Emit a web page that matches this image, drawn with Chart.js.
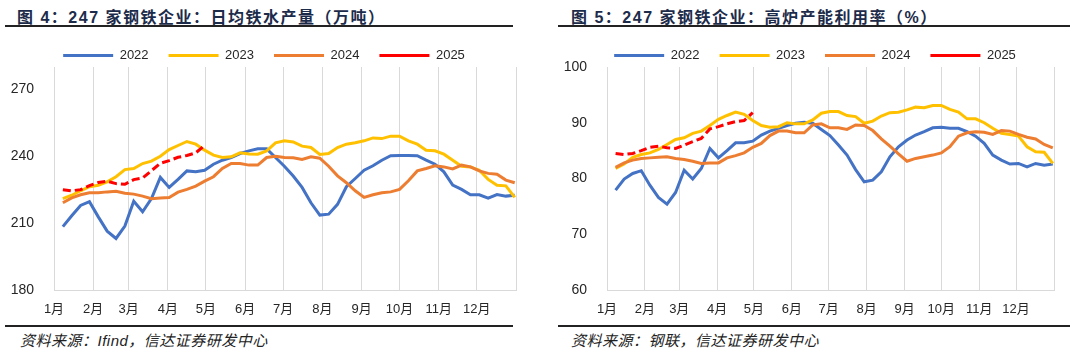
<!DOCTYPE html>
<html>
<head>
<meta charset="utf-8">
<script src="https://cdn.jsdelivr.net/npm/chart.js@4.4.1/dist/chart.umd.min.js"></script>
<style>
  body { margin: 0; width: 1088px; height: 351px; background: #fff; position: relative; overflow: hidden; }
  .title { position: absolute; top: 4px; line-height: 20px; font: bold 16px "Liberation Sans", "Noto Sans CJK SC", sans-serif; color: #1c2b4a; letter-spacing: 1.5px; white-space: nowrap; }
  .rule { position: absolute; height: 2px; background: #222; }
  .src { position: absolute; top: 329px; line-height: 18px; font: italic 15px "Liberation Sans", "Noto Sans CJK SC", sans-serif; color: #222; letter-spacing: 0.5px; white-space: nowrap; }
  .box { position: absolute; top: 29px; height: 291px; }
</style>
</head>
<body>
<div class="title" style="left:17px">图 4：247 家钢铁企业：日均铁水产量（万吨）</div>
<div class="rule" style="left:5px;width:508px;top:25px"></div>
<div class="box" style="left:0;width:528px"><canvas id="ironChart"></canvas></div>
<div class="rule" style="left:5px;width:508px;top:325px"></div>
<div class="src" style="left:20px">资料来源：Ifind，信达证券研发中心</div>

<div class="title" style="left:571px">图 5：247 家钢铁企业：高炉产能利用率（%）</div>
<div class="rule" style="left:558px;width:512px;top:25px"></div>
<div class="box" style="left:544px;width:522px"><canvas id="utilChart"></canvas></div>
<div class="rule" style="left:558px;width:512px;top:325px"></div>
<div class="src" style="left:571px">资料来源：钢联，信达证券研发中心</div>

<script>
// week positions (day of year) and month boundaries
const weekDays = [7, 14, 21, 28, 35, 42, 49, 56, 63, 70, 77, 84, 91, 98, 105, 112, 119, 126, 133, 140,
  147, 154, 161, 168, 175, 182, 189, 196, 203, 210, 217, 224, 231, 238, 245, 252, 259, 266, 273, 280,
  287, 294, 301, 308, 315, 322, 329, 336, 343, 350, 357, 364];
const monthStarts = [0, 31, 59, 90, 120, 151, 181, 212, 243, 273, 304, 334, 365];
const monthLabels = ['1月', '2月', '3月', '4月', '5月', '6月', '7月', '8月', '9月', '10月', '11月', '12月', ''];
const years = ['2022', '2023', '2024', '2025'];

// 日均铁水产量（万吨）
const iron2022 = [208.4, 213.3, 217.9, 219.6, 212.8, 206.4, 203.1, 208.7, 219.8, 215.1, 221.0, 230.5, 226.0, 229.6,
  233.4, 233.0, 233.7, 236.4, 238.2, 239.4, 241.2, 242.4, 243.3, 243.3, 239.4, 235.5, 231.1, 226.0, 219.1, 213.6,
  214.0, 218.4, 226.3, 230.0, 233.7, 235.7, 238.2, 240.2, 240.3, 240.3, 240.2, 238.2, 236.4, 233.0, 227.0, 225.1,
  222.7, 222.7, 221.2, 222.8, 222.1, 222.5];
const iron2023 = [221.0, 222.5, 224.5, 226.3, 227.0, 228.5, 230.8, 234.0, 234.5, 236.7, 237.8, 240.0, 243.0, 244.8,
  246.6, 245.4, 242.7, 240.5, 239.4, 239.7, 241.5, 241.0, 240.9, 242.4, 246.0, 246.9, 246.4, 244.5, 243.9, 240.8,
  241.2, 243.9, 245.4, 246.0, 246.9, 248.2, 247.9, 249.0, 249.0, 246.9, 245.4, 242.7, 242.4, 240.9, 238.2, 235.5,
  235.2, 233.7, 229.6, 227.0, 226.7, 221.5];
const iron2024 = [219.1, 221.3, 222.7, 223.6, 223.6, 224.0, 224.3, 223.4, 223.0, 222.1, 220.9, 221.3, 221.5, 223.9,
  225.1, 226.6, 228.8, 230.8, 234.5, 236.7, 236.7, 236.0, 236.0, 239.4, 240.0, 239.4, 239.3, 238.5, 239.7, 239.1,
  235.5, 231.2, 228.1, 224.5, 221.5, 222.7, 223.6, 224.0, 225.1, 229.0, 233.4, 234.5, 235.7, 235.2, 234.3, 236.0,
  235.2, 233.4, 232.3, 231.9, 229.3, 228.1];
const iron2025 = [225.0, 224.5, 225.0, 226.8, 228.2, 228.8, 227.7, 227.4, 229.5, 230.2, 233.5, 236.8, 238.0, 239.5,
  240.3, 241.5, 244.8];
const ironTicks = [180, 210, 240, 270];

// 高炉产能利用率（%）
const util2022 = [77.9, 79.9, 80.9, 81.4, 78.8, 76.6, 75.4, 77.5, 81.5, 79.9, 81.8, 85.4, 83.7, 85.0, 86.4, 86.4,
  86.7, 87.8, 88.5, 89.0, 89.5, 89.9, 90.1, 89.9, 88.8, 87.7, 86.0, 84.2, 81.6, 79.4, 79.7, 81.2, 83.9, 85.7, 86.9,
  87.8, 88.4, 89.1, 89.2, 89.0, 89.0, 88.4, 87.6, 86.3, 84.2, 83.3, 82.6, 82.7, 82.1, 82.7, 82.4, 82.6];
const util2023 = [81.8, 82.6, 83.8, 84.3, 84.6, 85.2, 86.1, 87.0, 87.3, 88.1, 88.5, 89.5, 90.6, 91.3, 91.9, 91.5,
  90.4, 89.5, 89.2, 89.3, 90.0, 89.8, 89.8, 90.5, 91.7, 92.0, 92.0, 91.3, 91.1, 89.9, 90.3, 91.2, 91.8, 91.9, 92.3,
  92.8, 92.7, 93.1, 93.1, 92.4, 91.9, 90.7, 90.7, 90.0, 89.0, 88.1, 87.9, 87.6, 85.7, 84.8, 84.7, 82.7];
const util2024 = [82.0, 82.8, 83.3, 83.6, 83.7, 83.8, 83.9, 83.6, 83.4, 83.1, 82.7, 82.8, 82.8, 83.7, 84.1, 84.6,
  85.6, 86.3, 87.7, 88.5, 88.5, 88.2, 88.2, 89.6, 89.8, 89.1, 89.1, 88.8, 89.6, 89.5, 88.6, 87.1, 85.8, 84.4, 83.1,
  83.6, 83.9, 84.2, 84.6, 85.7, 87.6, 88.2, 88.4, 88.3, 87.9, 88.6, 88.5, 87.9, 87.4, 87.1, 86.1, 85.5];
const util2025 = [84.5, 84.3, 84.5, 85.0, 85.6, 85.8, 85.5, 85.4, 86.0, 86.6, 87.2, 88.9, 89.3, 89.8, 90.2, 90.4, 91.8];
const utilTicks = [60, 70, 80, 90, 100];

const colors = ['#4472C4', '#FFC000', '#ED7D31', '#FF0000'];
const fontFamily = "'Liberation Sans', 'Noto Sans CJK SC', sans-serif";
const textColor = '#262626';

// keep the legend compact so the plot starts where it should
const legendHeight = {
  id: 'legendHeight',
  beforeInit(chart) {
    const fit = chart.legend.fit;
    chart.legend.fit = function () {
      fit.call(this);
      this.height = 38;
    };
  }
};

function toPoints(values) {
  return values.map((v, i) => ({ x: weekDays[i], y: v }));
}

function makeChart(id, series, yMin, yMax, yTicks, pad, yWidth) {
  const datasets = series.map((values, i) => ({
    label: years[i],
    data: toPoints(values),
    borderColor: colors[i],
    backgroundColor: colors[i],
    borderWidth: 3,
    borderDash: i === 3 ? [8, 4] : [],
    pointRadius: 0,
    tension: 0,
    fill: false,
    order: 4 - i
  }));

  new Chart(document.getElementById(id), {
    type: 'line',
    data: { datasets: datasets },
    plugins: [legendHeight],
    options: {
      responsive: true,
      maintainAspectRatio: false,
      animation: false,
      layout: { padding: pad },
      plugins: {
        tooltip: { enabled: false },
        legend: {
          position: 'top',
          labels: {
            usePointStyle: true,
            pointStyle: 'line',
            pointStyleWidth: 50,
            padding: 20,
            color: textColor,
            font: { size: 13, family: fontFamily },
            sort: (a, b) => a.datasetIndex - b.datasetIndex
          }
        }
      },
      scales: {
        x: {
          type: 'linear',
          min: 0,
          max: 365,
          afterBuildTicks: s => { s.ticks = monthStarts.map(v => ({ value: v })); },
          afterFit: s => { s.height = 30; },
          grid: { color: '#d9d9d9', drawTicks: false },
          border: { color: '#d9d9d9' },
          ticks: {
            padding: 12,
            autoSkip: false,
            maxRotation: 0,
            color: textColor,
            font: { size: 13, family: fontFamily },
            callback: v => monthLabels[monthStarts.indexOf(v)] || ''
          }
        },
        y: {
          min: yMin,
          max: yMax,
          afterBuildTicks: s => { s.ticks = yTicks.map(v => ({ value: v })); },
          afterFit: s => { s.width = yWidth; },
          grid: { display: false },
          border: { display: false },
          ticks: {
            padding: 12,
            color: textColor,
            font: { size: 14, family: fontFamily }
          }
        }
      }
    }
  });
}

makeChart('ironChart', [iron2022, iron2023, iron2024, iron2025], 180, 280, ironTicks,
  { left: 10, right: 10, top: 0, bottom: 0 }, 44);
makeChart('utilChart', [util2022, util2023, util2024, util2025], 60, 100, utilTicks,
  { left: 20, right: 0, top: 0, bottom: 0 }, 43);
</script>
</body>
</html>
